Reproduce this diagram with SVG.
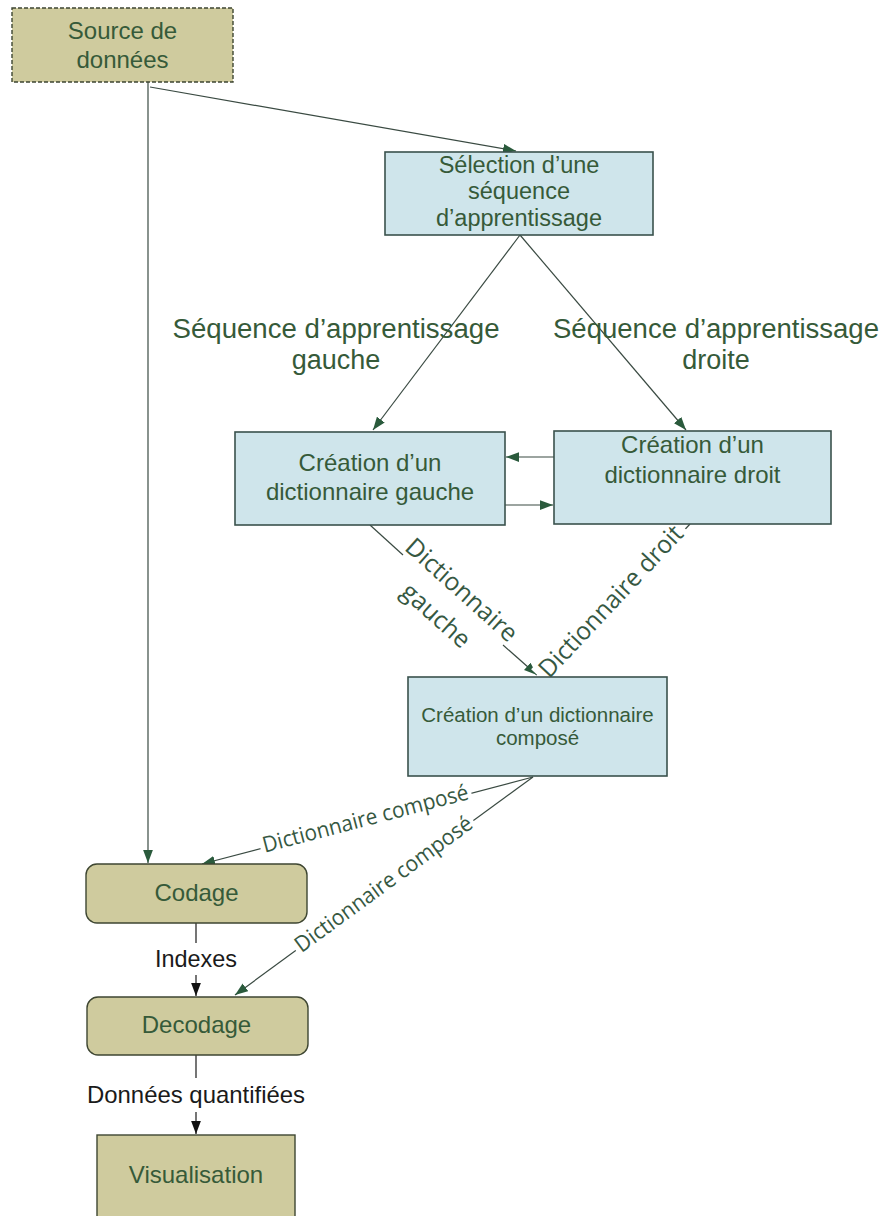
<svg xmlns="http://www.w3.org/2000/svg" width="883" height="1216" viewBox="0 0 883 1216">
<style>
.khaki{fill:#cfcb9e;stroke:#3e4632;stroke-width:1.4}
.blue{fill:#cfe5eb;stroke:#3a524d;stroke-width:1.6}
.nt{font-family:"Liberation Sans",Arial,sans-serif;fill:#365a39;text-anchor:middle}
.lb{font-family:"Liberation Sans",Arial,sans-serif;fill:#365a39;text-anchor:middle;font-size:27px}
.bl{font-family:"Liberation Sans",Arial,sans-serif;fill:#1a1a1a;text-anchor:middle;font-size:24px}
.cl{font-family:"Open Sans",sans-serif;fill:#365842;text-anchor:middle}
.ln{fill:none;stroke:#3a4a42;stroke-width:1.2}
.lk{fill:none;stroke:#1a1a1a;stroke-width:1.2}
</style>
<defs>
<marker id="ag" viewBox="0 0 12 9" refX="12" refY="4.5" markerWidth="13" markerHeight="10" markerUnits="userSpaceOnUse" orient="auto"><path d="M0,0 L12,4.5 L0,9 z" fill="#2a5a3c"/></marker>
<marker id="ak" viewBox="0 0 12 9" refX="12" refY="4.5" markerWidth="13" markerHeight="10" markerUnits="userSpaceOnUse" orient="auto"><path d="M0,0 L12,4.5 L0,9 z" fill="#111"/></marker>
</defs>

<g id="connectors">
<line class="ln" x1="148" y1="82" x2="148" y2="863" marker-end="url(#ag)"/>
<line class="ln" x1="150" y1="87" x2="516" y2="151" marker-end="url(#ag)"/>
<line class="ln" x1="520" y1="235" x2="373" y2="430" marker-end="url(#ag)"/>
<line class="ln" x1="520" y1="235" x2="686" y2="430" marker-end="url(#ag)"/>
<line class="ln" x1="554" y1="457" x2="506" y2="457" marker-end="url(#ag)"/>
<line class="ln" x1="505" y1="505" x2="553" y2="505" marker-end="url(#ag)"/>
<line class="ln" x1="370" y1="525" x2="403" y2="555"/>
<line class="ln" x1="503" y1="645" x2="537" y2="675" marker-end="url(#ag)"/>
<line class="ln" x1="690" y1="524" x2="548" y2="676"/>
<line class="ln" x1="533" y1="777" x2="202" y2="864" marker-end="url(#ag)"/>
<line class="ln" x1="533" y1="777" x2="235" y2="995" marker-end="url(#ag)"/>
<line class="lk" x1="196" y1="923" x2="196" y2="943"/>
<line class="lk" x1="196" y1="975" x2="196" y2="996" marker-end="url(#ak)"/>
<line class="lk" x1="196" y1="1055" x2="196" y2="1078"/>
<line class="lk" x1="196" y1="1112" x2="196" y2="1134" marker-end="url(#ak)"/>

<text class="lb" x="336" y="338" textLength="327" lengthAdjust="spacingAndGlyphs">Séquence d’apprentissage</text>
<text class="lb" x="336" y="369">gauche</text>
<text class="lb" x="716" y="338" textLength="326" lengthAdjust="spacingAndGlyphs">Séquence d’apprentissage</text>
<text class="lb" x="716" y="369">droite</text>

<g transform="translate(450,603) rotate(41.9)">
<text class="cl" x="0" y="-9" font-size="25" textLength="141" lengthAdjust="spacingAndGlyphs">Dictionnaire</text>
<text class="cl" x="-2" y="27" font-size="25" textLength="83" lengthAdjust="spacingAndGlyphs">gauche</text>
</g>
<g transform="translate(612,608) rotate(-46.8)">
<rect x="-100" y="-17" width="208" height="25" fill="#fff"/>
<text class="cl" x="4" y="3" font-size="25" textLength="198" lengthAdjust="spacingAndGlyphs">Dictionnaire droit</text>
</g>
<g transform="translate(366,821) rotate(-14.7)">
<rect x="-109" y="-14" width="218" height="22" fill="#fff"/>
<text class="cl" x="0" y="5" font-size="22" textLength="212" lengthAdjust="spacingAndGlyphs">Dictionnaire composé</text>
</g>
<g transform="translate(385,886) rotate(-36.2)">
<rect x="-110" y="-14" width="220" height="22" fill="#fff"/>
<text class="cl" x="0" y="5" font-size="22" textLength="214" lengthAdjust="spacingAndGlyphs">Dictionnaire composé</text>
</g>
<text class="bl" x="196" y="967" textLength="82" lengthAdjust="spacingAndGlyphs">Indexes</text>
<text class="bl" x="196" y="1103" textLength="218" lengthAdjust="spacingAndGlyphs">Données quantifiées</text>
</g>

<g id="source">
<rect class="khaki" x="12" y="8" width="221" height="74" stroke-dasharray="4,2"/>
<text class="nt" x="122.5" y="39" font-size="24">Source de</text>
<text class="nt" x="122.5" y="68" font-size="24">données</text>
</g>

<g id="selection">
<rect class="blue" x="385" y="152" width="268" height="83"/>
<text class="nt" x="519" y="173" font-size="23.5">Sélection d’une</text>
<text class="nt" x="519" y="199" font-size="23.5">séquence</text>
<text class="nt" x="519" y="226" font-size="23.5">d’apprentissage</text>
</g>

<g id="creation-gauche">
<rect class="blue" x="235" y="432" width="270" height="93"/>
<text class="nt" x="370" y="471" font-size="24">Création d’un</text>
<text class="nt" x="370" y="500" font-size="24">dictionnaire gauche</text>
</g>

<g id="creation-droit">
<rect class="blue" x="554" y="431" width="277" height="93"/>
<text class="nt" x="692.5" y="453" font-size="24">Création d’un</text>
<text class="nt" x="692.5" y="483" font-size="24">dictionnaire droit</text>
</g>

<g id="creation-compose">
<rect class="blue" x="408" y="677" width="259" height="99"/>
<text class="nt" x="537.5" y="722" font-size="20.5">Création d’un dictionnaire</text>
<text class="nt" x="537.5" y="745" font-size="20.5">composé</text>
</g>

<g id="codage">
<rect class="khaki" x="86" y="864" width="221" height="59" rx="11"/>
<text class="nt" x="196.5" y="901" font-size="24">Codage</text>
</g>

<g id="decodage">
<rect class="khaki" x="87" y="997" width="221" height="58" rx="11"/>
<text class="nt" x="196.5" y="1033" font-size="24">Decodage</text>
</g>

<g id="visualisation">
<rect class="khaki" x="97" y="1135" width="198" height="90"/>
<text class="nt" x="196" y="1183" font-size="24">Visualisation</text>
</g>
</svg>
